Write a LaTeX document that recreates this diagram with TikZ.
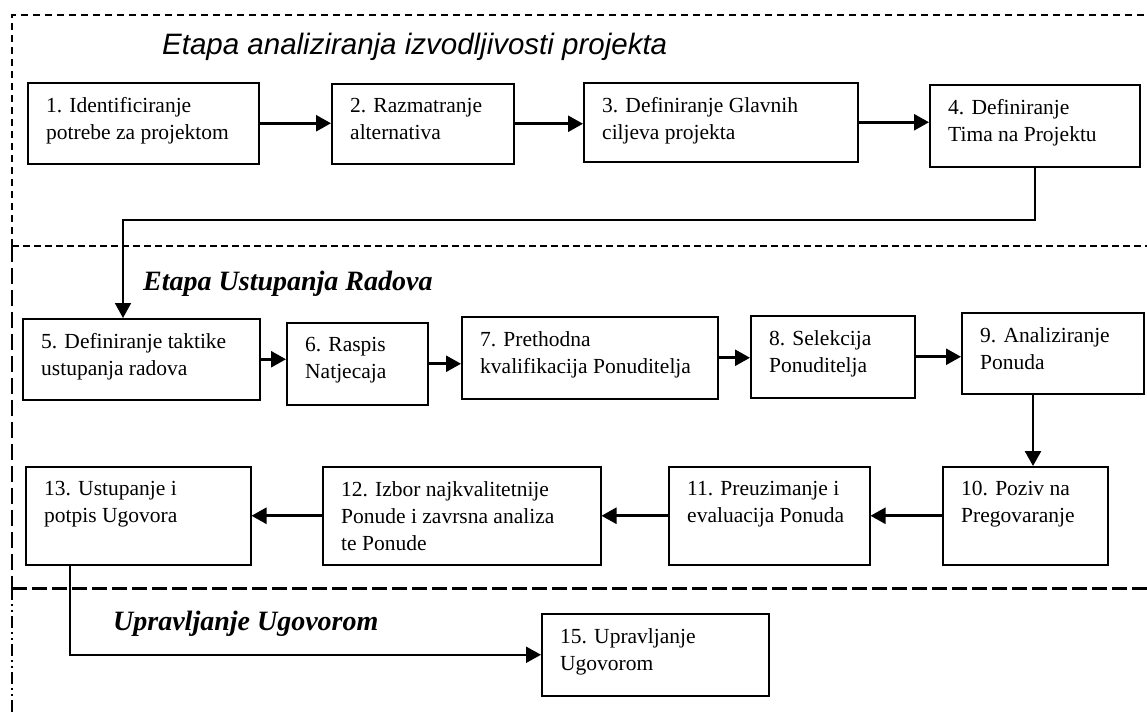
\documentclass[tikz,border=0pt]{standalone}
\usepackage{fontspec}
\setmainfont{Liberation Serif}
\newfontfamily\arialfont{Liberation Sans}
\usetikzlibrary{arrows.meta,calc}
\tikzset{
  bx/.style={draw, line width=1.5pt, anchor=north west, inner sep=0pt},
  lbl/.style={anchor=north west, inner sep=0pt, align=left, font=\fontsize{21.5pt}{27pt}\selectfont},
  arr/.style={line width=2.6pt, -{Triangle[length=15pt,width=16pt]}},
  conn/.style={line width=1.7pt},
  ttl/.style={anchor=base west, inner sep=0pt},
  bdtop/.style={line width=2pt, dash pattern=on 7pt off 5pt},
  bdmid/.style={line width=1.8pt, dash pattern=on 7pt off 4pt},
  bdleft/.style={line width=2.4pt, dash pattern=on 16pt off 6pt},
  bdlow/.style={line width=3pt, dash pattern=on 15pt off 5pt},
  bddot/.style={line width=2.4pt, dash pattern=on 12pt off 4pt on 2pt off 4pt on 2pt off 4pt}
}
\newcommand\pbox[6]{%
  \node[bx, minimum width={(#4-#2)*1pt}, minimum height={(#5-#3)*1pt}] (#1) at (#2,#3) {};
  \node[lbl] (#1t) at ([shift={(19pt,-15pt)}]#1.north west) {#6};
}
\begin{document}
\begin{tikzpicture}[x=1pt,y=-1pt]
\useasboundingbox (0,0) rectangle (1147,713);
% borders
\draw[bdtop] (12,246) -- (12,15) -- (1147,15);
\draw[bdmid] (12,246) -- (1147,246);
\draw[bdleft] (12,246) -- (12,588);
\draw[bdlow] (12,588) -- (1147,588);
\draw[bddot] (12,588) -- (12,713);
% titles
\node[ttl, font=\arialfont\itshape\fontsize{29.5pt}{32pt}\selectfont] (ti1) at (162,54) {Etapa analiziranja izvodljivosti projekta};
\node[ttl, font=\bfseries\itshape\fontsize{28pt}{30pt}\selectfont] (ti2) at (143,290) {Etapa Ustupanja Radova};
\node[ttl, font=\bfseries\itshape\fontsize{28pt}{30pt}\selectfont] (ti3) at (113,630) {Upravljanje Ugovorom};
% row 1
\pbox{b1}{27}{82}{258}{163}{1. Identificiranje\\potrebe za projektom}
\pbox{b2}{331}{83}{513}{163}{2. Razmatranje\\alternativa}
\pbox{b3}{583}{82}{857}{161}{3. Definiranje Glavnih\\ciljeva projekta}
\pbox{b4}{929}{84}{1139}{166}{4. Definiranje\\Tima na Projektu}
% row 2
\pbox{b5}{22}{318}{259}{399}{5. Definiranje taktike\\ustupanja radova}
\pbox{b6}{286}{322}{427}{404}{6. Raspis\\Natjecaja}
\pbox{b7}{461}{316}{717}{398}{7. Prethodna\\kvalifikacija Ponuditelja}
\pbox{b8}{750}{315}{914}{397}{8. Selekcija\\Ponuditelja}
\pbox{b9}{961}{312}{1143}{393}{9. Analiziranje\\Ponuda}
% row 3
\pbox{b10}{942}{466}{1107}{564}{10. Poziv na\\Pregovaranje}
\pbox{b11}{668}{466}{869}{564}{11. Preuzimanje i\\evaluacija Ponuda}
\pbox{b12}{322}{466}{600}{564}{12. Izbor najkvalitetnije\\Ponude i zavrsna analiza\\te Ponude}
\pbox{b13}{25}{466}{250}{564}{13. Ustupanje i\\potpis Ugovora}
% row 4
\pbox{b15}{541}{613}{768}{695}{15. Upravljanje\\Ugovorom}
% connectors
\draw[arr] (b1.east) -- (b1.east -| b2.west);
\draw[arr] (b2.east) -- (b2.east -| b3.west);
\draw[arr] (b3.east) -- (b3.east -| b4.west);
\coordinate (k1) at (123,220);
\draw[conn, -{Triangle[length=15pt,width=16pt]}] (b4.south) |- (k1) -- (k1 |- b5.north);
\draw[arr] (b5.east) -- (b5.east -| b6.west);
\draw[arr] (b6.east) -- (b6.east -| b7.west);
\draw[arr] (b7.east) -- (b7.east -| b8.west);
\draw[arr] (b8.east) -- (b8.east -| b9.west);
\coordinate (k2) at (1033,0);
\draw[arr] (k2 |- b9.south) -- (k2 |- b10.north);
\draw[arr] (b10.west) -- (b10.west -| b11.east);
\draw[arr] (b11.west) -- (b11.west -| b12.east);
\draw[arr] (b12.west) -- (b12.west -| b13.east);
\coordinate (k3) at (70,0);
\draw[conn, line width=2pt, -{Triangle[length=15pt,width=16pt]}] (k3 |- b13.south) |- (b15.west);
\end{tikzpicture}
\end{document}
